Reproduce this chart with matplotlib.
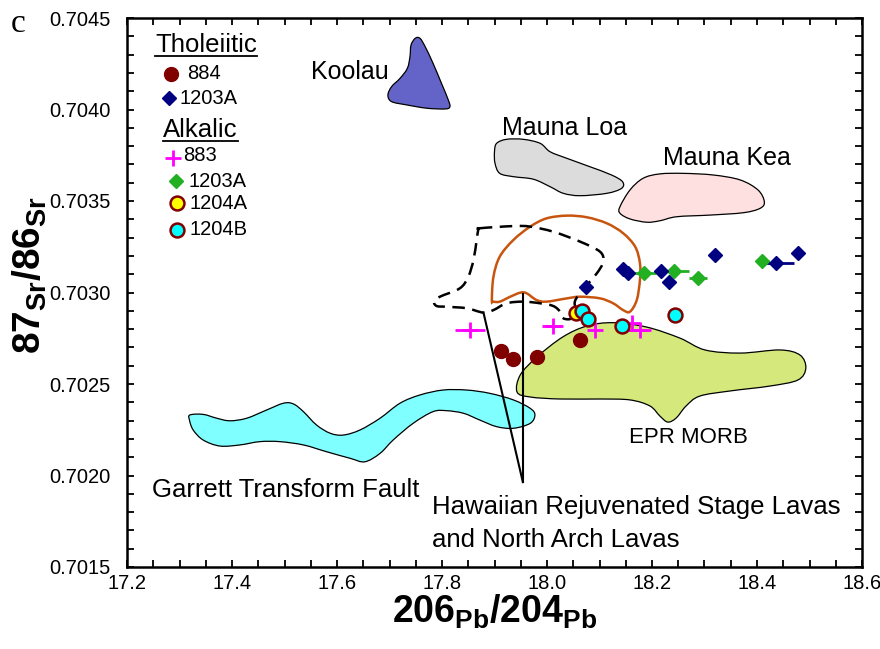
import matplotlib
matplotlib.use('Agg')
import matplotlib.pyplot as plt
from matplotlib.patches import PathPatch
from matplotlib.path import Path
from matplotlib.ticker import MultipleLocator, FormatStrFormatter
from matplotlib.lines import Line2D

plt.rcParams['font.family'] = ['Liberation Sans', 'DejaVu Sans']
plt.rcParams['mathtext.fontset'] = 'custom'
plt.rcParams['mathtext.bf'] = 'Liberation Sans:bold'
plt.rcParams['mathtext.rm'] = 'Liberation Sans'

# ---------------- data ----------------
th884_x = [17.912, 17.936, 17.980, 18.063]
th884_y = [0.702682, 0.702638, 0.702649, 0.702740]

th1203_x = [18.074, 18.145, 18.155, 18.217, 18.233, 18.320, 18.436, 18.478]
th1203_y = [0.703032, 0.703127, 0.703108, 0.703116, 0.703056, 0.703205, 0.703160, 0.703214]
th1203_xerr = [0, 0, 0, 0, 0, 0, 0.034, 0]

al883_x = [17.853, 18.011, 18.091, 18.161, 18.177]
al883_y = [0.702795, 0.702819, 0.702795, 0.702832, 0.702795]
al883_xerr = [0.029, 0.020, 0.0, 0.0, 0.022]

al1203_x = [18.185, 18.241, 18.288, 18.410]
al1203_y = [0.703105, 0.703116, 0.703081, 0.703170]
al1203_xerr = [0.023, 0.029, 0.017, 0.012]

al1204a_x = [18.055]
al1204a_y = [0.702886]

al1204b_x = [18.066, 18.079, 18.142, 18.244]
al1204b_y = [0.702900, 0.702855, 0.702819, 0.702877]

# field outlines (data coordinates, closed loops)
koolau_x = [17.749, 17.758, 17.768, 17.783, 17.799, 17.812, 17.815, 17.806, 17.771, 17.733,
            17.704, 17.697, 17.704, 17.720, 17.734, 17.739, 17.741]
koolau_y = [0.704389, 0.704389, 0.704343, 0.704252, 0.704143, 0.704052, 0.704015, 0.704003,
            0.704007, 0.704025, 0.704043, 0.704079, 0.704125, 0.704170, 0.704225, 0.704289, 0.704352]

mloa_x = [17.904, 17.923, 17.955, 17.987, 18.006, 18.038, 18.082, 18.123, 18.144, 18.142,
          18.114, 18.063, 18.031, 18.006, 17.974, 17.936, 17.910, 17.901, 17.900]
mloa_y = [0.703815, 0.703837, 0.703837, 0.703815, 0.703769, 0.703733, 0.703687, 0.703642,
          0.703605, 0.703569, 0.703542, 0.703529, 0.703542, 0.703578, 0.703619, 0.703633,
          0.703651, 0.703706, 0.703769]

mkea_x = [18.139, 18.158, 18.183, 18.215, 18.260, 18.317, 18.368, 18.402, 18.414, 18.406,
          18.374, 18.310, 18.247, 18.215, 18.190, 18.158, 18.139]
mkea_y = [0.703469, 0.703560, 0.703624, 0.703648, 0.703651, 0.703642, 0.703615, 0.703560,
          0.703496, 0.703460, 0.703436, 0.703423, 0.703414, 0.703392, 0.703384, 0.703402, 0.703433]

garrett_x = [17.320, 17.345, 17.371, 17.396, 17.428, 17.466, 17.498, 17.517, 17.536, 17.561,
             17.587, 17.612, 17.644, 17.682, 17.720, 17.758, 17.802, 17.847, 17.891, 17.936,
             17.968, 17.977, 17.968, 17.936, 17.904, 17.872, 17.841, 17.809, 17.783, 17.745,
             17.707, 17.682, 17.653, 17.625, 17.580, 17.536, 17.491, 17.453, 17.415, 17.377,
             17.345, 17.326, 17.319]
garrett_y = [0.702331, 0.702334, 0.702313, 0.702299, 0.702313, 0.702358, 0.702395, 0.702391,
             0.702349, 0.702276, 0.702231, 0.702221, 0.702249, 0.702313, 0.702395, 0.702440,
             0.702467, 0.702467, 0.702449, 0.702413, 0.702367, 0.702331, 0.702285, 0.702258,
             0.702267, 0.702303, 0.702340, 0.702354, 0.702349, 0.702285, 0.702194, 0.702121,
             0.702075, 0.702094, 0.702130, 0.702167, 0.702185, 0.702185, 0.702167, 0.702161,
             0.702194, 0.702249, 0.702303]

epr_x = [17.943, 17.949, 17.981, 18.030, 18.076, 18.126, 18.190, 18.253, 18.301, 18.368,
         18.444, 18.482, 18.493, 18.478, 18.425, 18.349, 18.291, 18.265, 18.246, 18.230,
         18.215, 18.196, 18.158, 18.101, 18.025, 17.968]
epr_y = [0.702456, 0.702549, 0.702648, 0.702757, 0.702817, 0.702835, 0.702811, 0.702751,
         0.702686, 0.702669, 0.702686, 0.702658, 0.702587, 0.702522, 0.702489, 0.702462,
         0.702434, 0.702380, 0.702314, 0.702292, 0.702325, 0.702380, 0.702413, 0.702418,
         0.702418, 0.702429]

orange_x = [17.895, 17.898, 17.910, 17.936, 17.968, 17.999, 18.038, 18.076, 18.114, 18.145,
            18.168, 18.177, 18.177, 18.171, 18.158, 18.145, 18.126, 18.101, 18.063, 18.038,
            17.999, 17.980, 17.961, 17.949, 17.930, 17.910, 17.898]
orange_y = [0.702959, 0.703086, 0.703196, 0.703287, 0.703360, 0.703405, 0.703420, 0.703411,
            0.703378, 0.703324, 0.703250, 0.703160, 0.703068, 0.702959, 0.702895, 0.702904,
            0.702941, 0.702968, 0.702977, 0.702968, 0.702950, 0.702959, 0.702996, 0.702999,
            0.702977, 0.702950, 0.702950]

dashed_x = [17.872, 17.936, 17.968, 18.012, 18.063, 18.101, 18.107, 18.095, 18.076, 18.060,
            18.053, 18.053, 18.047, 18.031, 18.025, 18.012, 17.987, 17.955, 17.923, 17.898,
            17.879, 17.847, 17.809, 17.790, 17.785, 17.796, 17.834, 17.850, 17.860, 17.866,
            17.869]
dashed_y = [0.703351, 0.703363, 0.703360, 0.703332, 0.703278, 0.703223, 0.703168, 0.703105,
            0.703041, 0.702986, 0.702950, 0.702914, 0.702859, 0.702859, 0.702895, 0.702926,
            0.702941, 0.702950, 0.702941, 0.702904, 0.702890, 0.702914, 0.702922, 0.702926,
            0.702950, 0.702977, 0.703023, 0.703086, 0.703178, 0.703287, 0.703342]

pointer1_x = [17.879, 17.954]
pointer1_y = [0.702890, 0.701964]
pointer2_x = [17.954, 17.954]
pointer2_y = [0.702992, 0.701964]

# ---------------- colours ----------------
C884 = '#800000'
CNAVY = '#000080'
CMAG = '#ff00ff'
CGREEN = '#22b022'
CYEL = '#ffff00'
CCYAN = '#00ffff'

fig = plt.figure(figsize=(8.8, 6.49), dpi=100)
ax = fig.add_axes([127/880, 1-567/649, 735/880, 549/649])
ax.set_xlim(17.2, 18.6)
ax.set_ylim(0.7015, 0.7045)


def smooth_path(xs, ys):
    """Closed Catmull-Rom curve through the outline vertices, as cubic Bezier path."""
    n = len(xs)
    P = list(zip(xs, ys))
    verts = [P[0]]
    codes = [Path.MOVETO]
    for i in range(n):
        p0 = P[(i - 1) % n]
        p1 = P[i]
        p2 = P[(i + 1) % n]
        p3 = P[(i + 2) % n]
        c1 = (p1[0] + (p2[0] - p0[0]) / 6.0, p1[1] + (p2[1] - p0[1]) / 6.0)
        c2 = (p2[0] - (p3[0] - p1[0]) / 6.0, p2[1] - (p3[1] - p1[1]) / 6.0)
        verts += [c1, c2, p2]
        codes += [Path.CURVE4] * 3
    verts.append(P[0])
    codes.append(Path.CLOSEPOLY)
    return Path(verts, codes)


def field(xs, ys, fc):
    ax.add_patch(PathPatch(smooth_path(xs, ys), facecolor=fc, edgecolor='black',
                           lw=0.9, zorder=1))


field(koolau_x, koolau_y, '#6464c8')
field(mloa_x, mloa_y, '#dcdcdc')
field(mkea_x, mkea_y, '#ffe0e0')
field(garrett_x, garrett_y, '#7fffff')
field(epr_x, epr_y, '#d5e87c')

ax.add_patch(PathPatch(smooth_path(orange_x, orange_y), fill=False, edgecolor='#c8550f',
                       lw=1.8, zorder=2))
ax.add_patch(PathPatch(smooth_path(dashed_x, dashed_y), fill=False, edgecolor='black',
                       lw=1.8, ls=(0, (5, 3)), zorder=2))
ax.plot(pointer1_x, pointer1_y, color='black', lw=1.5, zorder=2)
ax.plot(pointer2_x, pointer2_y, color='black', lw=1.5, zorder=2)

# error bars
ax.errorbar(al883_x, al883_y, xerr=al883_xerr, fmt='none', ecolor=CMAG, elinewidth=2, capsize=0, zorder=3)
ax.errorbar(al1203_x, al1203_y, xerr=al1203_xerr, fmt='none', ecolor=CGREEN, elinewidth=2, capsize=0, zorder=3)
ax.errorbar(th1203_x, th1203_y, xerr=th1203_xerr, fmt='none', ecolor=CNAVY, elinewidth=2, capsize=0, zorder=3)

ax.plot(th884_x, th884_y, 'o', ms=10, color=C884, mec=C884, zorder=4)
ax.plot(al883_x, al883_y, '+', ms=12, color=CMAG, mew=2, zorder=4)
ax.plot(al1203_x, al1203_y, 'D', ms=7.5, color=CGREEN, mec=CGREEN, zorder=4)
ax.plot(th1203_x, th1203_y, 'D', ms=7.5, color=CNAVY, mec=CNAVY, zorder=5)
ax.plot(al1204a_x, al1204a_y, 'o', ms=10, color=CYEL, mec=C884, mew=1.8, zorder=5)
ax.plot(al1204b_x, al1204b_y, 'o', ms=10, color=CCYAN, mec=C884, mew=1.8, zorder=6)

# axes styling
for s in ax.spines.values():
    s.set_linewidth(1.8)
ax.xaxis.set_major_locator(MultipleLocator(0.2))
ax.xaxis.set_minor_locator(MultipleLocator(0.05))
ax.yaxis.set_major_locator(MultipleLocator(0.0005))
ax.yaxis.set_minor_locator(MultipleLocator(0.0001))
ax.xaxis.set_major_formatter(FormatStrFormatter('%.1f'))
ax.yaxis.set_major_formatter(FormatStrFormatter('%.4f'))
ax.tick_params(which='both', direction='in', top=True, right=True, width=1.3, length=5,
               labelsize=14.5)
ax.tick_params(axis='x', pad=5)
ax.tick_params(axis='y', pad=12)

# region labels
ax.text(17.550, 0.704205, 'Koolau', fontsize=18, va='center', ha='left')
ax.text(17.914, 0.703899, 'Mauna Loa', fontsize=18, va='center', ha='left')
ax.text(18.221, 0.703735, 'Mauna Kea', fontsize=18, va='center', ha='left')
ax.text(18.156, 0.702210, 'EPR MORB', fontsize=16, va='center', ha='left')
ax.text(17.248, 0.701921, 'Garrett Transform Fault', fontsize=18.5, va='center', ha='left')
ax.text(17.781, 0.701828, 'Hawaiian Rejuvenated Stage Lavas', fontsize=18.5, va='center', ha='left')
ax.text(17.781, 0.701648, 'and North Arch Lavas', fontsize=18.5, va='center', ha='left')

# hand-made legend
T = ax.transAxes
h1 = ax.text(0.038, 0.951, 'Tholeiitic', fontsize=18.5, va='center', ha='left', transform=T)
ax.plot([0.0599], [0.898], 'o', ms=10, color=C884, transform=T, clip_on=False)
ax.text(0.0816, 0.898, '884', fontsize=14.5, va='center', ha='left', transform=T)
ax.plot([0.0571], [0.854], 'D', ms=7.5, color=CNAVY, transform=T, clip_on=False)
ax.text(0.0721, 0.854, '1203A', fontsize=14.5, va='center', ha='left', transform=T)
h2 = ax.text(0.049, 0.796, 'Alkalic', fontsize=18.5, va='center', ha='left', transform=T)
ax.plot([0.0626], [0.745], '+', ms=12, mew=2, color=CMAG, transform=T, clip_on=False)
ax.text(0.0762, 0.750, '883', fontsize=14.5, va='center', ha='left', transform=T)
ax.plot([0.0667], [0.703], 'D', ms=7.5, color=CGREEN, transform=T, clip_on=False)
ax.text(0.083, 0.703, '1203A', fontsize=14.5, va='center', ha='left', transform=T)
ax.plot([0.068], [0.663], 'o', ms=10, color=CYEL, mec=C884, mew=1.8, transform=T, clip_on=False)
ax.text(0.0844, 0.663, '1204A', fontsize=14.5, va='center', ha='left', transform=T)
ax.plot([0.068], [0.614], 'o', ms=10, color=CCYAN, mec=C884, mew=1.8, transform=T, clip_on=False)
ax.text(0.0844, 0.614, '1204B', fontsize=14.5, va='center', ha='left', transform=T)

# axis labels
fig.text(495/880, 1-612/649, r'$\mathbf{206}_{\mathbf{Pb}}\mathbf{/204}_{\mathbf{Pb}}$',
         fontsize=27, ha='center', va='center')
fig.text(30/880, 1-275/649, r'$\mathbf{87}_{\mathbf{Sr}}\mathbf{/86}_{\mathbf{Sr}}$',
         fontsize=28, ha='center', va='center', rotation=90)
fig.text(18/880, 1-24/649, 'c', fontsize=24, family='Liberation Serif', ha='center', va='center')

# underline legend headings
fig.canvas.draw()
r = fig.canvas.get_renderer()
for h in (h1, h2):
    bb = h.get_window_extent(r)
    y = bb.y0 + 1
    fig.add_artist(Line2D([bb.x0 / 880, bb.x1 / 880], [y / 649, y / 649],
                          color='black', lw=1.3, transform=fig.transFigure))

fig.savefig('out.png', dpi=100)
